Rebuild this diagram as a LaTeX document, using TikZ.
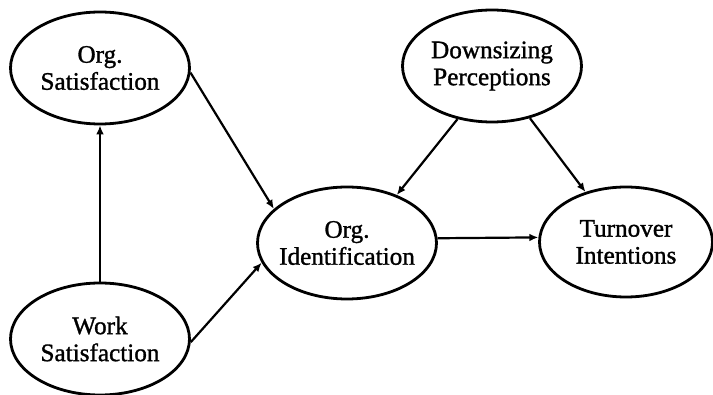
\documentclass[tikz,border=0pt]{standalone}
\usepackage{fontspec}
\setmainfont{Liberation Serif}
\newfontfamily\scanfont{Liberation Serif}[FakeBold=1.2]
\usetikzlibrary{shapes.geometric,arrows.meta}
\begin{document}
\begin{tikzpicture}[x=0.5pt,y=-0.5pt,
  ell/.style={ellipse,draw,line width=1.4pt,minimum width=89.5pt,minimum height=56pt,inner sep=0pt},
  txt/.style={font=\scanfont\fontsize{12.6pt}{13.5pt}\selectfont,align=center},
  arr/.style={line width=1.1pt,-{Latex[length=4.5pt,width=3.8pt]}}]
\useasboundingbox (0,0) rectangle (713,395);
\node[ell] (os) at (100,68) {};
\node[txt] (ost) at (os.center) {Org.\\Satisfaction};
\node[ell] (ds) at (492,66) {};
\node[txt] (dst) at (ds.center) {Downsizing\\Perceptions};
\node[ell] (oi) at (347,243) {};
\node[txt] (oit) at (oi.center) {Org.\\Identification};
\node[ell,minimum width=86.5pt,minimum height=55pt] (to) at (626,242) {};
\node[txt] (tot) at (to.center) {Turnover\\Intentions};
\node[ell] (ws) at (100,339) {};
\node[txt] (wst) at (ws.center) {Work\\Satisfaction};
\draw[arr] (ws.north) -- (os.south);
\draw[arr] (os.-3) -- (oi.155);
\draw[arr] (ws.-2) -- (oi.193);
\draw[arr] (ds.237) -- (oi.44);
\draw[arr] (ds.306) -- (to.129);
\draw[arr] (oi.3) -- (to.177);
\end{tikzpicture}
\end{document}
